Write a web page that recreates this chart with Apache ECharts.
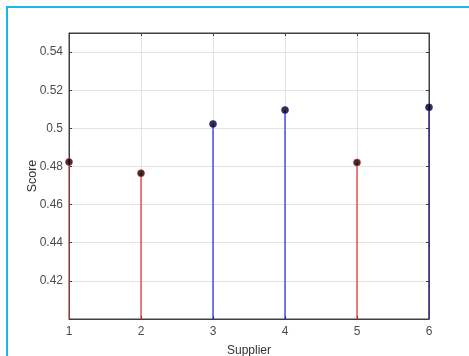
<!DOCTYPE html>
<html>
<head>
<meta charset="utf-8">
<script src="https://cdn.jsdelivr.net/npm/echarts@6/dist/echarts.min.js"></script>
<style>
  html, body { margin: 0; padding: 0; background: #fff; }
  .frame {
    position: absolute;
    left: 6px;
    top: 6px;
    width: 463px;
    height: 350px;
    border-left: 2px solid #1db3ee;
    border-top: 2px solid #1db3ee;
  }
  #chart { position: absolute; left: 0; top: 0; width: 469px; height: 356px; }
</style>
</head>
<body>
<div class="frame"></div>
<div id="chart"></div>
<script>
// suppliers below 0.5 are drawn red, the rest blue
const redSuppliers = [1, 2, 5];
const redScores = [0.4824, 0.4765, 0.4821];
const blueSuppliers = [3, 4, 6];
const blueScores = [0.5023, 0.5096, 0.511];
const yTicks = [0.42, 0.44, 0.46, 0.48, 0.5, 0.52, 0.54];
const yMin = 0.40;
const yMax = 0.55;

const labelFont = { fontFamily: "Liberation Sans", fontSize: 12, color: "#4d4d4d" };
const axisColor = "#404040";

function stemSeries(xs, ys, color, fill) {
  let pts = xs.map((x, i) => [x, ys[i]]);
  return [
    {
      type: "custom",
      data: pts,
      clip: true,
      z: 2,
      renderItem: function (params, api) {
        let top = api.coord([api.value(0), api.value(1)]);
        let base = api.coord([api.value(0), yMin]);
        return {
          type: "line",
          shape: { x1: top[0], y1: top[1], x2: base[0], y2: base[1] },
          style: { stroke: color, lineWidth: 1.2 },
        };
      },
    },
    {
      type: "scatter",
      data: pts,
      symbol: "circle",
      symbolSize: 7,
      z: 3,
      itemStyle: { color: fill, borderColor: color, borderWidth: 0.8 },
    },
  ];
}

let myChart = echarts.init(document.getElementById("chart"), null, { renderer: "canvas" });
let option = {
  animation: false,
  backgroundColor: "transparent",
  grid: {
    left: 69,
    top: 33,
    width: 360,
    height: 286,
    containLabel: false,
    outerBoundsMode: "none",
    show: true,
    borderColor: axisColor,
    borderWidth: 1,
  },
  xAxis: [
    {
      type: "value",
      min: 1,
      max: 6,
      interval: 1,
      name: "Supplier",
      nameLocation: "middle",
      nameGap: 26,
      nameMoveOverlap: false,
      nameTextStyle: { fontFamily: "Liberation Sans", fontSize: 12, color: "#333" },
      axisLine: { show: true, lineStyle: { color: axisColor } },
      axisTick: { show: true, inside: true, length: 3, lineStyle: { color: axisColor } },
      axisLabel: Object.assign({ margin: 7 }, labelFont),
      splitLine: { show: true, lineStyle: { color: "#e3e3e3", width: 1 } },
    },
    {
      type: "value",
      position: "top",
      min: 1,
      max: 6,
      interval: 1,
      axisLine: { show: true, lineStyle: { color: axisColor } },
      axisTick: { show: true, inside: true, length: 3, lineStyle: { color: axisColor } },
      axisLabel: { show: false },
      splitLine: { show: false },
    },
  ],
  yAxis: [
    {
      type: "value",
      min: yMin,
      max: yMax,
      interval: 0.02,
      name: "Score",
      nameLocation: "middle",
      nameGap: 30,
      nameMoveOverlap: false,
      nameTextStyle: { fontFamily: "Liberation Sans", fontSize: 12.5, color: "#333" },
      axisLine: { show: true, lineStyle: { color: axisColor } },
      axisTick: { show: true, inside: true, length: 3, lineStyle: { color: axisColor } },
      axisLabel: Object.assign(
        {
          margin: 6,
          formatter: function (v) {
            let hit = yTicks.find((t) => Math.abs(t - v) < 1e-6);
            return hit === undefined ? "" : String(hit);
          },
        },
        labelFont
      ),
      splitLine: { show: true, lineStyle: { color: "#e3e3e3", width: 1 } },
    },
    {
      type: "value",
      position: "right",
      min: yMin,
      max: yMax,
      interval: 0.02,
      axisLine: { show: true, lineStyle: { color: axisColor } },
      axisTick: { show: true, inside: true, length: 3, lineStyle: { color: axisColor } },
      axisLabel: { show: false },
      splitLine: { show: false },
    },
  ],
  series: [].concat(
    stemSeries(redSuppliers, redScores, "#e8282c", "#000000"),
    stemSeries(blueSuppliers, blueScores, "#2424e6", "#000000")
  ),
};
option && myChart.setOption(option);
</script>
</body>
</html>
